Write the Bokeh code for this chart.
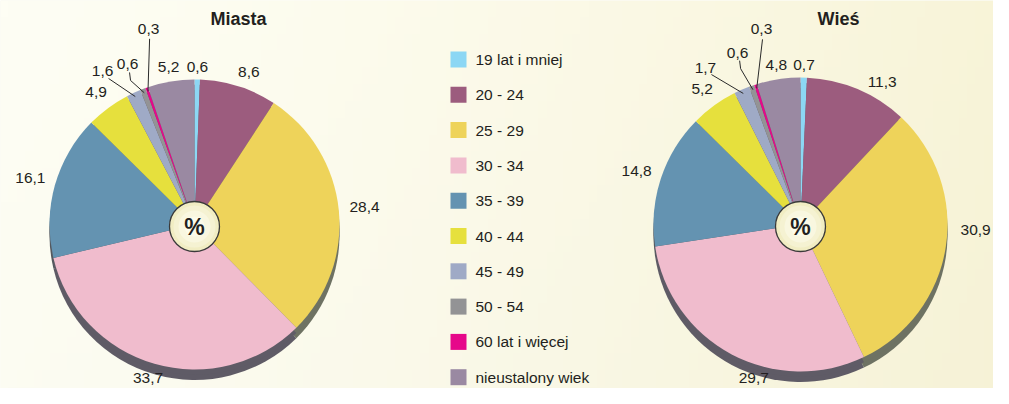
import numpy as np
from bokeh.plotting import figure
from bokeh.models import Range1d
from bokeh.core.properties import value
from bokeh.embed import file_html
from bokeh.resources import INLINE

# ---------------- data ----------------
categories = ["19 lat i mniej", "20 - 24", "25 - 29", "30 - 34", "35 - 39",
              "40 - 44", "45 - 49", "50 - 54", "60 lat i więcej", "nieustalony wiek"]
miasta = [0.6, 8.6, 28.4, 33.7, 16.1, 4.9, 1.6, 0.6, 0.3, 5.2]
wies = [0.7, 11.3, 30.9, 29.7, 14.8, 5.2, 1.7, 0.6, 0.3, 4.8]
titles = ["Miasta", "Wieś"]
center_text = "%"

# ---------------- styles ----------------
colors = ["#8CD7F4", "#9C5C7E", "#EED35A", "#F0BCCD", "#6493B1",
          "#E6E03D", "#9FAAC6", "#939395", "#E6088A", "#9A89A2"]
side_colors = ["#5F5B66", "#5F5B66", "#6E7263", "#5F5B66", "#55595F",
               "#6E7263", "#5F5B66", "#5F5B66", "#5F5B66", "#5F5B66"]
FONT = value("Liberation Sans")
TXT = "#231F20"
PW, PH = 993, 388
W, H = 1009, 404


def Y(ry):
    return PH - ry


p = figure(width=PW, height=PH, output_backend="svg",
           toolbar_location=None, x_range=Range1d(0, PW),
           y_range=Range1d(0, PH), min_border=0)
p.axis.visible = False
p.grid.visible = False
p.outline_line_color = None
p.background_fill_color = "#FAF9EB"
p.border_fill_color = "#FAF9EB"

# background gradient (cream, yellower to the right)
nx, ny = 120, 24
gx = np.linspace(0, 1, nx)[None, :]
gy = np.linspace(0, 1, ny)[:, None]
left = np.array([252, 252, 242])
right = np.array([246, 242, 214])
rgb = left[None, None, :] * (1 - gx[..., None] ** 1.3) + right[None, None, :] * (gx[..., None] ** 1.3)
rgb = rgb + (gy[..., None] * 2.0)
img = np.empty((ny, nx), dtype=np.uint32)
view = img.view(dtype=np.uint8).reshape((ny, nx, 4))
view[..., 0] = np.clip(rgb[..., 0], 0, 255)
view[..., 1] = np.clip(rgb[..., 1], 0, 255)
view[..., 2] = np.clip(rgb[..., 2], 0, 255)
view[..., 3] = 255
p.image_rgba(image=[img], x=0, y=Y(H), dw=W, dh=H)

pies = [
    dict(vals=miasta, title=titles[0], cx=194, cy=224, r=145, tx=238,
         nudge={1: (2, 0)},
         leader=[(329, 178.5), (337.3, 173.5), (346.8, 201)]),
    dict(vals=wies, title=titles[1], cx=800, cy=224, r=147, tx=838,
         nudge={1: (7, -2), 2: (-7, 2), 3: (-12, 0)},
         leader=[(328.8, 183.5), (339.9, 183), (348.7, 199)]),
]
leader_idx = [6, 7, 8]
leader_start = [(6, 7), (2, 8), (1, 10)]
leader_kink = [0, 8, 0]
SHADOW = 10.5
LABEL_MAX_Y = 377

for pie in pies:
    vals = np.array(pie["vals"], dtype=float)
    frac = vals / vals.sum()
    cum = np.concatenate([[0], np.cumsum(frac)])
    start = np.pi / 2 - 2 * np.pi * cum[:-1]
    end = np.pi / 2 - 2 * np.pi * cum[1:]
    cx, cy, r = pie["cx"], pie["cy"], pie["r"]

    # 3D side (shadow) then the top face
    p.wedge(x=cx, y=Y(cy) - SHADOW, radius=r, start_angle=start, end_angle=end,
            direction="clock", fill_color=side_colors, line_color=None)
    p.wedge(x=cx, y=Y(cy) - SHADOW * 0.5, radius=r, start_angle=start, end_angle=end,
            direction="clock", fill_color=side_colors, line_color=None)
    p.wedge(x=cx, y=Y(cy), radius=r, start_angle=start, end_angle=end,
            direction="clock", fill_color=colors, line_color=None)

    # labels
    mids = 360.0 * (cum[:-1] + cum[1:]) / 2
    lx, ly, lt = [], [], []
    xs_lines, ys_lines = [], []
    for i, v in enumerate(vals):
        txt = f"{v:.1f}".replace(".", ",")
        if i in leader_idx:
            k = leader_idx.index(i)
            ang, d = pie["leader"][k]
            a = np.radians(ang)
            px_, py_ = cx + d * np.sin(a), cy - d * np.cos(a)
            sx, sy = px_ + leader_start[k][0], py_ + leader_start[k][1]
            am = np.radians(mids[i])
            ex, ey = cx + (r - 4) * np.sin(am), cy - (r - 4) * np.cos(am)
            xs = [sx, sx + (1 if leader_kink[k] else 0), ex]
            ys = [sy, sy + leader_kink[k], ey]
            xs_lines.append(xs)
            ys_lines.append([Y(y) for y in ys])
        else:
            dth, dd = pie["nudge"].get(i, (0, 0))
            ang = mids[i] + dth
            a = np.radians(ang)
            d = r + 12 + 14 * abs(np.sin(a)) + 8 * max(0.0, -np.cos(a)) + dd
            px_, py_ = cx + d * np.sin(a), min(cy - d * np.cos(a), LABEL_MAX_Y)
        lx.append(px_)
        ly.append(Y(py_))
        lt.append(txt)
    p.multi_line(xs=xs_lines, ys=ys_lines, line_color="#2A2A2A", line_width=1)
    p.text(x=lx, y=ly, text=lt, text_font=FONT, text_font_size=value("15.5px"),
           text_color=TXT, text_align="center", text_baseline="middle")

    # title
    p.text(x=[pie["tx"]], y=[Y(18)], text=[pie["title"]], text_font=FONT,
           text_font_size=value("18px"), text_font_style="bold", text_color=TXT,
           text_align="center", text_baseline="middle")

    # center badge
    p.circle(x=[cx], y=[Y(cy + 2)], radius=25, fill_color="#F1EDC3",
             line_color="#3A3A3A", line_width=1.3)
    for rr, c in [(21, "#F5F2D2"), (16, "#F9F7E0"), (10, "#FCFBEA")]:
        p.circle(x=[cx], y=[Y(cy + 2)], radius=rr, fill_color=c, line_color=None)
    p.text(x=[cx], y=[Y(cy + 2)], text=[center_text], text_font=FONT,
           text_font_size=value("23px"), text_font_style="bold", text_color=TXT,
           text_align="center", text_baseline="middle")

# legend
ly0, step = 59, 35.3
leg_y = [Y(ly0 + step * i) for i in range(len(categories))]
p.rect(x=[458] * len(categories), y=leg_y, width=16, height=16,
       fill_color=colors, line_color=None)
p.text(x=[475] * len(categories), y=leg_y, text=categories, text_font=FONT,
       text_font_size=value("15.5px"), text_color=TXT, text_align="left",
       text_baseline="middle")

open("out.html", "w").write(file_html(p, INLINE))
